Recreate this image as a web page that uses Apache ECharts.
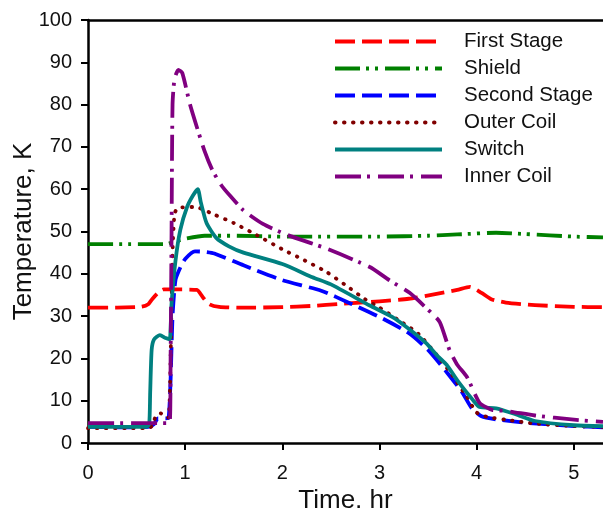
<!DOCTYPE html>
<html>
<head>
<meta charset="utf-8">
<script src="https://cdn.jsdelivr.net/npm/echarts@6/dist/echarts.min.js"></script>
<style>html,body{margin:0;padding:0;background:#fff}#c{width:603px;height:508px}</style>
</head>
<body>
<div id="c"></div>
<script>
const seriesNames = ['First Stage', 'Shield', 'Second Stage', 'Outer Coil', 'Switch', 'Inner Coil'];
const xTicks = [0, 1, 2, 3, 4, 5];

const firstStage = [[0,32],[0.3,32],[0.55,32.2],[0.62,32.8],[0.66,34],[0.72,35.5],[0.78,36.3],[0.9,36.3],[1.12,36.2],[1.18,34.5],[1.25,32.8],[1.35,32.2],[1.6,32],[2.0,32.1],[2.3,32.4],[2.6,32.9],[3.0,33.5],[3.3,34.1],[3.6,35.3],[3.8,36.2],[3.93,36.9],[4.05,35.5],[4.15,34],[4.3,33.2],[4.6,32.6],[5.0,32.2],[5.3,32.1]];
const shield = [[0,47],[0.5,47],[0.8,47],[0.88,47.5],[1.0,48.3],[1.2,49],[1.5,49],[2.0,48.8],[2.5,48.8],[3.0,48.8],[3.5,49],[3.8,49.3],[4.2,49.7],[4.5,49.4],[5.0,48.8],[5.3,48.6]];
const secondStage = [[0,3.8],[0.3,3.7],[0.62,3.8],[0.68,4.5],[0.72,5.8],[0.8,5.8],[0.83,6],[0.85,15],[0.87,30],[0.9,38.5],[0.95,41.5],[1.0,43.5],[1.1,45.3],[1.2,45.2],[1.3,44.8],[1.6,42],[2.0,38.5],[2.4,36],[2.7,33],[3.0,29.8],[3.3,26],[3.5,22],[3.7,16.5],[3.85,12],[3.95,8.2],[4.05,6.3],[4.2,5.6],[4.5,4.8],[5.0,4.0],[5.3,3.7]];
const outerCoil = [[0,3.5],[0.6,3.5],[0.66,4],[0.7,6.5],[0.75,7],[0.8,6],[0.83,6],[0.85,20],[0.87,45],[0.89,54],[0.92,55.5],[1.1,55.8],[1.3,54],[1.5,52],[1.7,49.6],[2.0,45.8],[2.2,43.5],[2.45,40.5],[2.7,36.5],[2.85,34],[3.0,32],[3.2,29],[3.4,25.8],[3.6,20.5],[3.75,16],[3.9,10.8],[4.0,7.2],[4.1,6.2],[4.3,5.5],[4.6,4.6],[5.0,4],[5.3,3.8]];
const switchT = [[0,3.8],[0.6,3.8],[0.63,4.5],[0.64,12],[0.655,22],[0.68,24.5],[0.74,25.5],[0.8,24.8],[0.84,24.5],[0.85,27],[0.86,33],[0.9,43],[0.95,50.4],[1.02,55.8],[1.08,58.5],[1.13,60],[1.16,57],[1.22,52],[1.32,48.5],[1.45,46.5],[1.6,45],[2.0,42.3],[2.31,39.2],[2.5,37.5],[2.9,32.5],[3.13,29.8],[3.3,27],[3.48,23.6],[3.6,20.5],[3.69,18.5],[3.82,14.2],[3.96,10.2],[4.03,8.5],[4.2,8.2],[4.4,6.8],[4.6,5.2],[5.0,4.2],[5.3,4]];
const innerCoil = [[0,4.7],[0.5,4.7],[0.84,4.7],[0.85,20],[0.86,50],[0.87,80],[0.89,86],[0.93,88.2],[0.97,87.5],[1.05,80],[1.12,74.7],[1.2,69],[1.28,64.5],[1.37,61],[1.46,58.5],[1.6,55],[1.8,51.8],[2.05,49.2],[2.45,46],[2.9,41.6],[3.1,38.5],[3.31,35.5],[3.5,31.5],[3.62,28.6],[3.72,22],[3.8,18.5],[3.9,15.6],[4.03,9.5],[4.16,7.8],[4.3,7.6],[4.6,6.5],[5.0,5.5],[5.3,5]];

const FONT = '"Liberation Sans", Arial, Helvetica, sans-serif';
const chart = echarts.init(document.getElementById('c'), null, {renderer: 'canvas'});

function mk(name, data, color, dash, cap) {
  return {
    name: name, type: 'line', data: data, symbol: 'none', smooth: 0.2,
    lineStyle: {color: color, width: 3.8, type: dash, cap: cap || 'butt', join: 'round'},
    itemStyle: {color: color}
  };
}

chart.setOption({
  animation: false,
  backgroundColor: '#fff',
  grid: {left: 88, right: 0, top: 20, bottom: 65, containLabel: false, outerBoundsMode: 'none'},
  legend: {
    orient: 'vertical', left: 328, top: 26,
    itemWidth: 107, itemHeight: 14, itemGap: 6,
    data: seriesNames,
    itemStyle: {opacity: 0},
    lineStyle: {width: 4},
    textStyle: {fontFamily: FONT, fontSize: 20.5, color: '#111', lineHeight: 20, padding: [0, 0, 0, 17]}
  },
  xAxis: [{
    type: 'value', min: 0, max: 5.3,
    name: 'Time, hr', nameLocation: 'middle', nameGap: 45, nameMoveOverlap: false,
    nameTextStyle: {fontFamily: FONT, fontSize: 26, color: '#111'},
    axisLine: {show: true, lineStyle: {color: '#000', width: 2.5}},
    axisTick: {show: true, length: 7, lineStyle: {color: '#000', width: 2}, customValues: xTicks},
    axisLabel: {fontFamily: FONT, fontSize: 20, color: '#111', margin: 20, customValues: xTicks},
    splitLine: {show: false}
  }, {
    type: 'value', min: 0, max: 5.3, position: 'top',
    axisLine: {show: true, lineStyle: {color: '#000', width: 2.5}},
    axisTick: {show: false}, axisLabel: {show: false}, splitLine: {show: false}
  }],
  yAxis: {
    type: 'value', min: 0, max: 100, interval: 10,
    name: 'Temperature, K', nameLocation: 'middle', nameGap: 51, nameRotate: 90, nameMoveOverlap: false,
    nameTextStyle: {fontFamily: FONT, fontSize: 26, color: '#111'},
    axisLine: {show: true, lineStyle: {color: '#000', width: 2.5}},
    axisTick: {show: true, length: 7, lineStyle: {color: '#000', width: 2}},
    axisLabel: {fontFamily: FONT, fontSize: 20, color: '#111', margin: 16},
    splitLine: {show: false}
  },
  series: [
    mk(seriesNames[0], firstStage, '#ff0000', [20, 7]),
    mk(seriesNames[1], shield, '#008000', [25, 6, 3, 6, 3, 7]),
    mk(seriesNames[2], secondStage, '#0000ff', [20, 7]),
    mk(seriesNames[3], outerCoil, '#800000', [0.5, 8.5], 'round'),
    mk(seriesNames[4], switchT, '#008080', 'solid'),
    mk(seriesNames[5], innerCoil, '#800080', [26, 6, 3, 8])
  ]
});
</script>
</body>
</html>
